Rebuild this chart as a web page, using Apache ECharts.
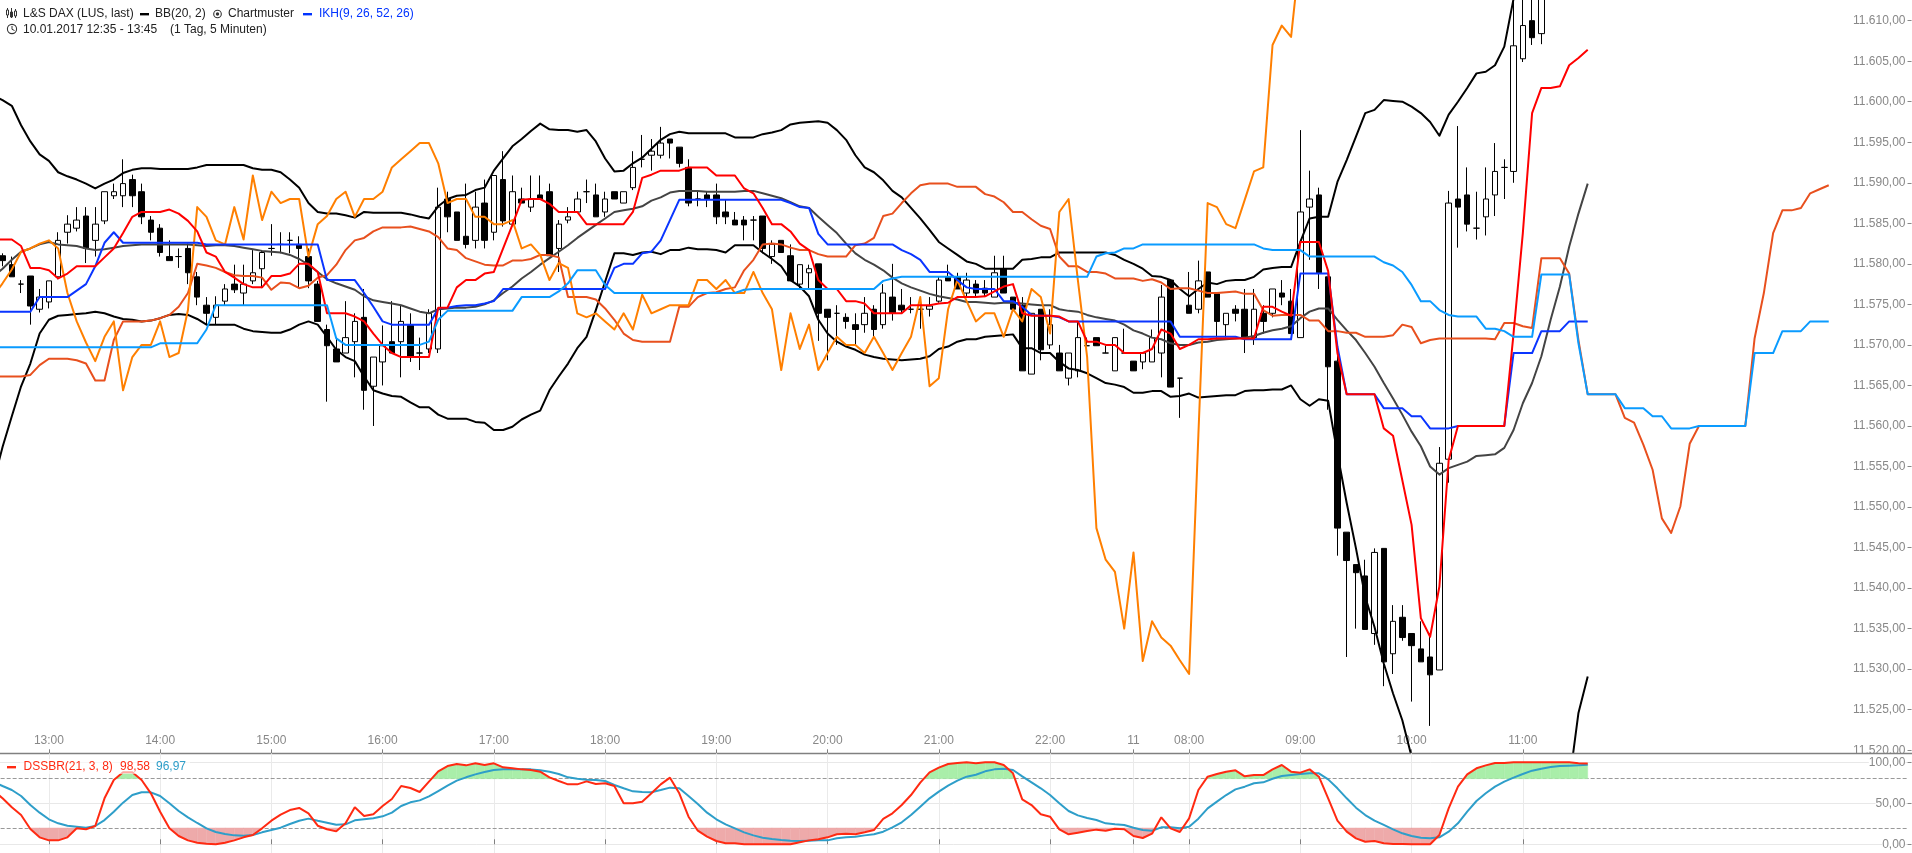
<!DOCTYPE html>
<html><head><meta charset="utf-8"><style>html,body{margin:0;padding:0;background:#fff}#c{width:1912px;height:853px}</style>
<script src="https://cdn.jsdelivr.net/npm/echarts@6/dist/echarts.min.js"></script></head><body><div id="c"></div><script>
const opens=[11581.5,11581.0,11579.9,11577.5,11578.5,11574.4,11575.3,11578.4,11583.9,11584.4,11585.9,
11582.9,11585.3,11588.4,11588.4,11590.4,11588.9,11585.4,11584.4,11580.9,11580.9,
11581.9,11578.4,11574.9,11573.4,11575.4,11577.5,11576.4,11577.9,11579.4,11581.9,
11582.4,11582.9,11582.4,11580.9,11577.5,11571.9,11569.5,11569.0,11570.4,11573.4,
11564.9,11567.9,11570.4,11570.4,11572.4,11569.0,11569.5,11569.5,11588.0,11586.4,
11583.4,11582.9,11587.5,11583.9,11590.4,11584.9,11588.0,11587.0,11588.5,11588.9,
11581.9,11585.4,11586.4,11588.9,11588.5,11586.4,11588.9,11587.5,11589.4,11592.9,
11593.4,11593.4,11595.4,11594.4,11591.9,11588.0,11588.5,11588.5,11586.4,11585.4,
11585.4,11585.4,11585.9,11580.9,11582.9,11581.0,11577.5,11578.9,11580.0,11574.4,
11573.9,11573.4,11572.5,11572.5,11574.4,11572.5,11575.9,11574.9,11574.4,11574.4,
11574.4,11575.4,11578.4,11578.4,11576.4,11577.5,11577.0,11575.9,11579.4,11575.9,
11574.9,11566.4,11574.4,11570.0,11569.0,11565.9,11566.8,11569.9,11570.9,11569.0,
11566.8,11569.0,11568.0,11567.9,11567.9,11569.0,11578.0,11565.9,11574.9,11574.4,
11579.0,11576.3,11572.5,11574.4,11574.4,11570.9,11573.9,11573.9,11576.4,11575.4,
11570.9,11587.0,11588.5,11578.4,11568.0,11546.9,11542.9,11541.5,11534.4,11544.9,
11531.9,11536.4,11534.4,11532.5,11531.5,11529.9,11555.9,11588.0,11588.5,11584.4,
11585.8,11588.5,11591.9,11591.4,11605.3,11610.0,11608.4];
const closes=[11581.0,11580.4,11578.4,11577.5,11574.8,11575.9,11577.9,11582.9,11584.9,11585.4,11581.9,
11584.9,11588.9,11588.9,11589.9,11588.4,11585.8,11583.9,11581.4,11580.4,11580.9,
11578.9,11575.9,11573.9,11574.9,11576.9,11576.8,11577.5,11578.9,11581.4,11581.9,
11582.4,11582.9,11581.9,11577.9,11572.9,11569.9,11567.9,11570.9,11572.9,11564.4,
11568.5,11569.9,11569.0,11572.9,11568.5,11569.0,11573.9,11587.0,11585.8,11582.9,
11582.4,11587.0,11582.9,11590.9,11585.3,11588.9,11587.5,11588.0,11588.0,11581.0,
11584.9,11585.8,11588.0,11588.9,11585.8,11588.0,11588.0,11588.9,11591.9,11592.9,
11593.9,11594.9,11594.9,11592.4,11587.5,11588.0,11588.0,11585.8,11585.8,11584.8,
11584.8,11585.4,11581.9,11582.4,11581.4,11577.9,11579.9,11579.4,11573.9,11573.4,
11573.9,11572.9,11571.9,11573.9,11571.9,11576.4,11573.9,11574.3,11574.4,11574.4,
11574.8,11578.0,11577.9,11576.9,11578.0,11576.4,11576.4,11578.9,11576.4,11574.4,
11566.8,11573.9,11569.4,11572.5,11566.8,11569.0,11570.9,11569.9,11569.9,11569.0,
11570.9,11569.0,11566.8,11569.0,11570.9,11575.9,11564.8,11565.9,11573.9,11577.9,
11575.9,11572.9,11573.9,11573.9,11570.9,11574.4,11572.9,11576.9,11575.9,11571.4,
11586.4,11588.0,11578.9,11567.3,11547.4,11543.4,11541.9,11534.9,11544.4,11530.9,
11535.9,11533.9,11532.9,11530.9,11529.3,11555.4,11587.5,11587.0,11584.9,11584.4,
11588.0,11591.4,11591.9,11606.9,11609.4,11607.9,11614.0];
const lows=[11580.5,11579.7,11578.4,11576.4,11572.5,11574.0,11574.5,11578.1,11582.5,11584.0,11580.1,
11580.9,11584.9,11588.0,11587.0,11587.0,11584.9,11582.9,11580.9,11580.4,11579.5,
11577.5,11574.9,11572.5,11572.5,11574.9,11576.4,11574.9,11577.5,11577.0,11581.0,
11581.3,11581.3,11577.0,11577.0,11572.9,11563.0,11567.9,11569.0,11566.0,11562.0,
11560.0,11565.0,11569.0,11566.0,11567.9,11566.9,11569.0,11569.0,11583.9,11582.9,
11581.9,11581.9,11581.9,11582.9,11584.6,11584.9,11587.5,11586.4,11588.0,11581.0,
11579.0,11585.0,11586.4,11587.5,11585.8,11585.8,11588.0,11587.5,11589.1,11591.9,
11591.5,11593.0,11593.0,11591.9,11587.1,11587.1,11587.0,11584.9,11584.9,11584.8,
11582.9,11582.9,11581.3,11580.0,11581.4,11577.9,11577.0,11577.0,11570.5,11568.1,
11570.0,11572.0,11570.0,11571.5,11570.9,11572.0,11573.0,11573.9,11573.9,11572.0,
11573.5,11575.2,11577.9,11576.9,11575.9,11575.9,11575.9,11575.9,11576.4,11574.4,
11566.8,11566.4,11568.1,11569.5,11566.8,11565.0,11566.0,11569.9,11569.9,11569.0,
11566.8,11569.0,11566.8,11567.0,11567.9,11566.0,11564.8,11561.0,11573.9,11573.9,
11575.9,11570.9,11570.9,11572.9,11569.0,11570.0,11571.4,11573.4,11574.9,11571.4,
11570.9,11580.5,11576.9,11562.0,11544.0,11531.5,11535.0,11534.9,11533.0,11527.9,
11529.4,11533.5,11526.0,11530.9,11523.0,11529.9,11553.0,11582.0,11584.0,11583.0,
11583.5,11585.9,11588.0,11590.0,11604.9,11607.0,11607.1];
const highs=[11582.0,11581.3,11580.9,11578.0,11578.5,11576.9,11577.9,11583.9,11586.0,11587.0,11587.0,
11587.0,11588.9,11589.9,11592.9,11591.0,11589.9,11585.9,11584.9,11582.9,11581.9,
11582.5,11579.0,11575.9,11576.0,11577.5,11579.9,11579.9,11581.7,11581.7,11584.9,
11583.9,11583.9,11583.4,11581.9,11577.9,11572.5,11570.9,11575.4,11573.9,11576.9,
11568.5,11572.4,11575.4,11574.9,11573.9,11570.9,11574.4,11589.4,11588.9,11586.4,
11589.9,11588.9,11590.4,11590.9,11593.9,11590.9,11589.4,11590.9,11590.9,11589.9,
11585.4,11587.0,11588.9,11590.4,11589.9,11588.9,11588.9,11588.9,11593.9,11595.9,
11595.4,11596.9,11595.4,11594.4,11592.9,11588.9,11588.9,11589.9,11587.9,11586.4,
11585.9,11585.9,11585.9,11582.9,11582.9,11582.4,11579.9,11579.9,11580.0,11574.4,
11574.9,11573.9,11573.9,11575.9,11574.9,11577.5,11580.0,11576.9,11575.9,11575.9,
11575.9,11578.4,11579.9,11578.9,11578.9,11578.0,11578.0,11581.0,11581.0,11575.9,
11575.9,11573.9,11574.4,11574.4,11570.0,11569.0,11572.9,11570.9,11570.9,11569.9,
11570.9,11572.0,11568.0,11569.0,11571.9,11577.4,11578.0,11565.9,11579.0,11580.4,
11579.0,11576.3,11573.9,11574.9,11576.9,11576.9,11574.9,11576.9,11578.0,11576.9,
11596.5,11591.5,11589.4,11578.4,11569.6,11546.9,11542.9,11543.5,11544.9,11544.9,
11537.9,11537.9,11534.4,11535.9,11534.4,11557.4,11589.0,11597.0,11591.9,11588.9,
11591.9,11594.9,11592.9,11614.0,11614.0,11614.0,11615.0];
const bbUpper=[11600.8,11600.2,11599.5,11597.1,11595.1,11593.5,11592.7,11591.3,11590.8,11590.4,11589.9,
11589.3,11589.9,11590.4,11591.2,11591.6,11591.8,11591.8,11591.7,11591.7,11591.7,
11591.7,11591.9,11592.2,11592.2,11592.2,11592.2,11592.2,11591.8,11591.6,11591.6,
11591.3,11590.4,11589.4,11587.5,11586.4,11586.2,11586.2,11586.0,11585.7,11586.4,
11586.3,11586.3,11586.3,11586.3,11586.1,11585.8,11585.6,11587.1,11588.0,11588.4,
11588.5,11589.1,11589.4,11591.5,11593.0,11594.5,11595.4,11596.4,11597.3,11596.6,
11596.5,11596.5,11596.3,11596.5,11595.1,11593.0,11591.4,11591.5,11592.4,
11593.1,11594.2,11595.3,11596.0,11596.3,11596.1,11596.1,11596.1,11596.1,11596.1,
11595.6,11595.6,11595.6,11596.0,11596.2,11596.5,11597.2,11597.4,11597.5,11597.6,
11597.4,11596.5,11595.3,11593.4,11591.9,11591.3,11590.3,11589.0,11588.2,11586.9,
11585.6,11584.2,11582.7,11581.9,11581.1,11580.3,11580.0,11579.4,11579.4,11579.4,
11579.4,11580.5,11580.6,11580.8,11580.8,11581.4,11581.4,11581.4,11581.4,11581.4,
11581.4,11581.1,11580.5,11580.0,11579.4,11578.5,11578.4,11578.0,11576.9,11576.0,
11576.9,11577.7,11577.5,11577.9,11578.0,11578.0,11578.4,11579.3,11579.5,
11579.6,11579.6,11582.7,11585.6,11585.8,11585.8,11590.1,11592.8,11595.7,11598.6,
11599.0,11600.2,11600.1,11600.0,11599.4,11598.6,11597.5,11595.8,11598.4,11600.0,
11601.7,11603.5,11603.7,11604.5,11606.8,11612.7];
const bbMiddle=[11578.4,11579.4,11580.5,11581.5,11581.9,11582.4,11582.7,11582.4,11582.3,11582.2,11581.9,
11581.7,11581.8,11582.0,11582.2,11582.3,11582.4,11582.4,11582.4,11582.4,11582.4,
11582.4,11582.3,11582.2,11582.3,11582.3,11582.2,11582.0,11581.8,11581.6,11581.5,
11581.4,11581.1,11580.6,11579.9,11579.0,11578.1,11577.6,11577.2,11576.8,11576.0,
11575.5,11575.3,11575.1,11574.9,11574.5,11574.1,11573.9,11574.4,11574.5,11574.6,
11574.6,11574.7,11575.0,11575.5,11576.4,11577.2,11578.2,11579.0,11579.9,11580.7,
11581.5,11582.3,11583.2,11584.0,11584.8,11585.6,11586.4,11586.6,11586.8,
11587.1,11587.8,11588.2,11588.8,11589.0,11589.0,11589.0,11588.9,11588.9,11588.9,
11588.9,11589.0,11589.0,11588.7,11588.4,11588.1,11587.6,11587.1,11586.9,11585.8,
11584.8,11583.8,11582.5,11581.3,11580.5,11579.9,11579.2,11578.3,11577.6,11577.1,
11576.7,11576.3,11576.0,11575.8,11575.6,11575.3,11575.3,11575.2,11575.1,11575.2,
11575.2,11575.1,11575.0,11574.9,11574.9,11574.4,11574.2,11574.1,11573.7,11573.4,
11573.2,11573.0,11572.5,11571.8,11571.4,11570.9,11570.7,11570.2,11570.0,11570.0,
11570.3,11570.4,11570.6,11570.7,11570.8,11570.9,11571.1,11571.5,11571.8,
11572.0,11572.3,11573.3,11574.1,11574.5,11574.5,11573.1,11571.8,11570.6,11569.0,
11567.3,11565.3,11563.4,11561.4,11559.3,11557.5,11555.0,11554.0,11554.8,11555.2,
11555.6,11556.3,11556.4,11556.5,11557.3,11559.5,11562.8,11565.3,11568.6,11573.1,
11577.2,11582.1,11586.2,11589.9];
const bbLower=[11553.0,11557.4,11561.2,11564.9,11567.7,11571.4,11573.1,11573.6,11573.7,11573.8,11573.9,
11574.1,11573.9,11573.5,11573.2,11573.1,11572.9,11573.0,11573.3,11573.7,11573.8,
11573.7,11573.2,11572.5,11572.5,11572.5,11572.5,11572.0,11571.7,11571.6,11571.5,
11571.5,11571.9,11572.5,11572.9,11572.5,11571.0,11569.4,11568.5,11568.0,11566.1,
11564.4,11564.0,11563.7,11563.6,11562.9,11562.3,11562.3,11561.4,11560.9,11560.9,
11560.9,11560.5,11560.4,11559.5,11559.5,11559.9,11560.8,11561.4,11561.9,11564.4,
11566.1,11567.7,11569.6,11571.0,11574.3,11577.8,11581.3,11581.3,11581.1,
11581.4,11581.5,11581.2,11581.7,11581.7,11582.0,11581.8,11581.8,11581.7,11581.4,
11582.3,11582.3,11582.3,11581.4,11580.6,11579.7,11578.0,11577.2,11576.0,11573.1,
11571.4,11570.4,11569.8,11569.4,11568.8,11568.5,11568.3,11568.2,11568.1,11568.2,
11568.3,11568.6,11569.5,11569.8,11570.4,11570.7,11570.7,11571.0,11571.1,11571.2,
11571.3,11569.6,11569.6,11569.0,11569.0,11567.9,11567.1,11566.9,11566.5,11565.9,
11565.3,11565.1,11564.8,11564.1,11564.1,11564.3,11564.3,11563.6,11563.7,11564.0,
11563.5,11563.6,11563.7,11563.8,11563.8,11564.3,11564.4,11564.4,11564.5,
11564.5,11565.0,11563.3,11562.5,11563.3,11563.1,11556.6,11550.5,11544.9,11538.9,
11535.2,11530.7,11527.0,11523.7,11519.2,11516.0,
null,null,null,null,null,null,null,null,null,null,null,null,null,null,null,
11515.9,11524.6,11529.1];
const tenkan=[11583.0,11583.0,11583.0,11582.2,11579.5,11579.5,11579.2,11578.2,11578.8,11579.7,11579.7,
11579.7,11580.8,11581.9,11583.8,11585.8,11586.4,11586.4,11586.4,11586.7,11586.2,
11585.3,11584.0,11581.4,11580.9,11579.0,11578.3,11577.5,11577.1,11577.1,11578.5,
11578.5,11578.8,11580.0,11580.0,11579.0,11573.9,11573.9,11573.9,11573.5,11572.9,
11571.4,11570.0,11569.0,11568.5,11568.5,11568.5,11568.5,11574.6,11574.6,11577.1,
11578.0,11578.0,11578.8,11579.0,11581.9,11584.8,11587.9,11588.0,11588.0,11587.4,
11586.4,11586.4,11586.4,11584.9,11584.9,11584.9,11584.9,11584.9,11586.4,
11590.6,11591.0,11591.5,11591.5,11591.5,11591.9,11591.9,11591.9,11590.9,11590.9,
11590.9,11589.3,11588.7,11586.9,11584.9,11584.9,11584.0,11582.5,11581.7,11578.0,
11576.9,11576.9,11575.4,11575.4,11575.1,11573.9,11573.9,11573.9,11573.9,11574.9,
11574.9,11574.9,11575.1,11575.2,11575.9,11575.9,11575.9,11576.0,11576.6,11577.2,
11577.5,11573.9,11573.6,11573.6,11573.6,11573.5,11572.9,11572.9,11570.4,11570.4,
11570.0,11570.0,11569.0,11569.0,11569.0,11569.5,11571.9,11571.4,11569.5,11570.0,
11570.7,11570.7,11570.8,11570.8,11570.8,11570.8,11570.8,11574.7,11574.7,
11574.1,11573.6,11582.7,11582.7,11582.7,11579.1,11569.0,11563.9,11563.9,11563.9,
11563.9,11559.7,11558.8,11553.3,11547.8,11536.3,11534.0,11540.2,11555.8,11560.0,
11560.0,11560.0,11560.0,11560.0,11560.0,11571.4,11583.8,11598.6,11601.7,11601.7,
11601.9,11604.5,11605.4,11606.4];
const kijun=[11574.1,11574.1,11574.1,11574.1,11574.1,11575.9,11575.9,11575.9,11575.9,11576.7,11577.5,
11579.7,11582.6,11583.9,11582.6,11582.6,11582.6,11582.6,11582.6,11582.6,11582.6,
11582.6,11582.6,11582.4,11582.4,11582.4,11582.4,11582.4,11582.4,11582.4,11582.4,
11582.4,11582.4,11582.4,11582.4,11582.4,11578.0,11578.0,11578.0,11578.0,11576.4,
11574.7,11572.9,11572.5,11572.5,11572.5,11572.5,11572.5,11574.5,11574.6,11574.8,
11574.9,11574.9,11575.1,11575.4,11576.9,11576.9,11576.9,11576.9,11576.9,11576.9,
11576.9,11576.9,11576.9,11576.9,11576.9,11576.9,11579.5,11580.0,11580.0,
11581.3,11581.5,11582.9,11585.4,11587.9,11587.9,11587.9,11587.9,11587.9,11587.9,
11587.9,11587.9,11587.9,11587.9,11587.9,11587.9,11587.5,11587.0,11586.9,11583.7,
11582.4,11582.4,11582.4,11582.4,11582.4,11582.4,11582.4,11582.4,11581.7,11581.2,
11580.5,11579.0,11579.0,11579.0,11578.0,11577.1,11576.9,11576.9,11576.9,11575.4,
11575.4,11574.7,11573.7,11573.6,11573.6,11573.4,11572.9,11572.9,11572.9,11572.9,
11572.9,11572.9,11572.9,11572.9,11572.9,11572.9,11572.9,11572.9,11571.0,11571.0,
11571.0,11571.0,11571.0,11571.0,11571.0,11570.7,11570.7,11570.7,11570.7,
11570.7,11570.7,11578.8,11578.8,11578.8,11578.8,11569.8,11563.9,11563.9,11563.9,
11563.9,11562.2,11562.2,11562.2,11561.2,11561.2,11559.7,11559.7,11559.7,11560.0,
11560.0,11560.0,11560.0,11560.0,11560.0,11569.0,11569.0,11569.0,11571.7,11571.7,
11571.7,11572.9,11572.9,11572.9];
const chikou=[11576.0,11577.6,11579.3,11581.5,11581.9,11582.5,11582.9,11581.9,11576.4,11572.9,11570.3,
11568.0,11571.0,11572.9,11564.4,11568.5,11570.0,11570.0,11572.9,11568.5,11569.0,
11574.3,11587.0,11585.8,11582.9,11582.4,11587.0,11583.0,11590.9,11585.4,11588.9,
11587.5,11588.0,11588.0,11580.9,11584.9,11585.9,11588.0,11588.9,11585.8,11588.0,
11588.0,11588.9,11591.9,11592.9,11593.9,11594.9,11594.9,11592.4,11587.5,11588.0,
11588.0,11585.8,11585.8,11584.9,11584.9,11585.4,11581.9,11582.4,11581.1,11578.0,
11580.1,11579.5,11573.9,11573.4,11573.9,11572.9,11571.9,11573.9,11571.9,
11576.2,11573.9,11574.4,11574.9,11574.9,11574.9,11578.0,11578.0,11576.9,11578.0,
11576.4,11576.4,11579.0,11576.4,11574.4,11566.9,11573.9,11569.5,11572.5,11566.9,
11569.0,11571.0,11570.0,11570.0,11569.0,11571.0,11569.0,11566.9,11569.0,11571.0,
11575.9,11564.9,11565.9,11574.4,11578.0,11575.4,11572.9,11573.9,11573.9,11571.0,
11574.4,11572.9,11576.9,11575.9,11571.4,11586.4,11588.0,11578.0,11568.5,
11547.4,11543.5,11542.0,11535.0,11544.4,11531.0,11535.9,11533.9,11532.9,11531.1,
11529.4,11558.9,11587.5,11587.0,11584.9,11584.4,11587.9,11591.4,11591.9,11607.0,
11609.4,11608.0,11618.7];
const senkouA=[11566.1,11566.1,11566.1,11566.1,11566.3,11567.5,11568.3,11568.3,11568.3,11568.1,11567.7,
11565.6,11565.6,11570.6,11572.9,11572.9,11572.9,11573.0,11573.3,11573.7,11574.7,
11576.4,11580.0,11579.8,11579.5,11579.0,11578.6,11578.5,11578.5,11578.3,11576.8,
11577.7,11577.6,11577.0,11577.3,11578.3,11578.6,11579.9,11581.7,11582.9,11583.2,
11584.0,11584.5,11584.5,11584.5,11584.6,11584.3,11584.0,11583.3,11581.9,11581.7,
11580.7,11580.3,11579.9,11579.8,11579.8,11580.4,11580.4,11580.6,11581.1,11581.1,
11580.8,11575.9,11575.9,11575.9,11575.6,11574.5,11573.1,11571.4,11570.6,
11570.4,11570.4,11570.4,11570.4,11574.7,11574.7,11575.9,11576.4,11576.5,11576.9,
11577.1,11579.2,11580.5,11582.4,11582.5,11582.4,11582.0,11581.7,11581.7,11581.2,
11580.9,11580.9,11580.9,11582.3,11582.5,11583.2,11585.9,11586.2,11587.5,11588.7,
11589.7,11589.9,11589.9,11589.9,11589.5,11589.5,11589.5,11588.6,11588.3,11587.6,
11586.4,11586.4,11585.5,11584.7,11584.3,11580.9,11579.7,11579.7,11579.0,11579.0,
11578.8,11578.2,11578.2,11578.2,11577.9,11578.1,11577.7,11576.9,11577.0,11577.0,
11576.7,11576.4,11576.4,11576.5,11576.6,11576.3,11576.3,11574.3,11573.6,
11573.7,11573.7,11573.7,11573.0,11573.0,11571.7,11571.7,11571.5,11571.5,11571.0,
11571.0,11571.0,11571.2,11572.5,11572.2,11570.2,11570.6,11570.8,11570.8,11570.8,
11570.8,11570.8,11570.8,11570.7,11572.7,11572.7,11572.3,11572.1,11580.7,11580.7,
11580.7,11578.8,11570.6,11563.9,11563.9,11563.9,11563.9,11561.0,11560.4,11557.7,
11554.6,11548.6,11546.8,11550.1,11557.8,11560.0,11560.0,11560.0,11560.0,11560.0,
11560.0,11570.8,11576.4,11583.8,11586.6,11586.6,11586.9,11588.7,11589.2,11589.7];
const senkouB=[11569.7,11569.7,11569.7,11569.7,11569.7,11569.7,11569.7,11569.7,11569.7,11569.7,11569.7,
11569.7,11569.7,11569.7,11569.7,11569.7,11569.7,11569.7,11570.2,11570.2,11570.2,
11570.2,11570.2,11571.9,11574.9,11574.9,11574.9,11574.9,11574.9,11574.9,11574.9,
11574.9,11574.9,11574.9,11574.9,11574.9,11574.9,11570.8,11570.0,11570.0,11570.0,
11570.0,11570.0,11570.0,11570.0,11570.0,11570.0,11570.4,11573.1,11574.2,11574.2,
11574.2,11574.2,11574.2,11574.2,11574.2,11574.2,11575.9,11575.9,11575.9,11575.9,
11576.6,11577.6,11579.2,11579.2,11579.2,11577.4,11576.4,11576.4,11576.4,
11576.4,11576.4,11576.4,11576.4,11576.4,11576.4,11576.4,11576.4,11576.4,11576.4,
11576.4,11576.8,11576.9,11576.9,11576.9,11576.9,11576.9,11576.9,11576.9,11576.9,
11576.9,11576.9,11576.9,11576.9,11576.9,11576.9,11577.9,11578.2,11578.4,11578.4,
11578.4,11578.4,11578.4,11578.4,11578.4,11578.4,11578.4,11578.4,11578.4,11578.4,
11578.4,11578.4,11578.4,11578.4,11578.4,11578.4,11578.4,11578.4,11578.4,11580.9,
11581.3,11581.4,11581.9,11581.9,11582.4,11582.4,11582.4,11582.4,11582.4,11582.4,
11582.4,11582.4,11582.4,11582.4,11582.4,11582.4,11582.4,11581.9,11581.7,
11581.7,11581.7,11581.7,11580.9,11580.9,11580.9,11580.9,11580.9,11580.9,11580.9,
11580.9,11580.2,11579.8,11579.0,11577.4,11575.4,11575.4,11574.3,11573.7,11573.5,
11573.5,11573.5,11572.0,11572.0,11571.7,11571.0,11571.0,11571.0,11578.7,11578.7,
11578.7,11578.7,11570.2,11563.9,11563.9,11563.9,11563.9,11562.2,11562.2,11562.2,
11561.2,11561.2,11559.7,11559.7,11559.7,11560.0,11560.0,11560.0,11560.0,11560.0,
11560.0,11569.0,11569.0,11569.0,11571.7,11571.7,11571.7,11572.9,11572.9,11572.9];
const dssK=[66.2,56.1,45.1,35.7,18.7,8.5,4.8,4.8,8.5,19.5,18.3,
22.3,56.1,78.4,87.8,87.8,78.4,62.2,39.8,19.5,10.1,
4.8,2.0,0.8,0,2.0,4.8,8.5,11.4,19.5,28.8,
36.1,41.8,44.3,37.8,22.7,18.3,15.8,25.6,45.1,34.5,
36.6,46.7,55.3,71.1,68.7,63.8,76.4,89.0,95.5,97.9,
96.3,98.8,96.7,98.8,93.9,92.7,91.4,90.6,88.6,81.7,
77.2,73.1,73.1,76.8,73.5,74.4,71.1,50.0,50.0,
52.0,62.2,73.1,81.3,62.2,33.7,16.6,9.3,4.0,1.2,
1.2,0,0,0,0,0,0,2.4,4.8,6.1,
8.5,12.2,13.0,12.2,14.6,17.4,30.9,37.8,47.9,60.1,
75.2,87.8,93.5,97.9,99.2,100,98.8,100,100,96.7,
86.6,54.8,47.9,36.6,33.7,18.3,12.2,14.2,16.2,17.9,
16.6,19.1,18.3,10.1,7.7,13.0,32.9,19.5,15.0,31.7,
66.2,82.5,85.7,88.6,90.2,82.9,84.5,84.5,91.4,
96.7,88.6,87.4,91.4,82.5,56.1,28.8,15.4,7.3,3.2,
4.0,1.2,0.4,0.4,0,0,0,11.4,43.9,70.3,
85.3,92.7,96.3,99.2,99.2,100,100,100,100,100,
100,100,98.8,98.58];
const dssD=[76.4,71.1,66.2,58.9,47.9,38.6,30.5,25.6,22.7,21.5,20.3,
22.3,29.6,39.8,50.8,60.1,63.4,63.4,58.9,50.0,40.6,
32.9,26.0,19.5,15.0,12.6,10.9,10.5,11.4,14.6,17.4,
20.3,24.8,28.8,31.3,28.8,26.4,23.9,24.4,29.2,30.5,
31.7,34.1,38.6,46.7,51.2,53.6,58.5,65.0,71.5,77.6,
81.7,85.3,88.2,90.6,91.4,91.4,91.4,91.4,90.2,88.6,
85.7,81.7,80.0,78.8,78.4,77.2,72.3,68.3,64.6,
63.8,63.4,66.2,69.1,68.3,58.9,49.1,38.6,30.5,24.4,
19.5,14.6,10.9,8.1,6.5,5.3,4.4,4.0,4.4,4.8,
4.8,7.3,8.5,9.3,10.9,12.2,15.4,20.7,26.8,35.7,
45.9,56.1,64.2,71.5,77.6,82.5,84.9,89.0,91.4,92.2,
90.6,82.9,75.6,68.3,60.1,50.0,40.6,35.3,32.1,29.6,
25.6,24.4,23.6,20.3,17.4,16.6,20.7,20.7,19.5,21.5,
31.3,43.9,52.0,60.1,67.0,70.3,74.4,75.6,80.0,
83.3,84.5,85.7,86.6,86.6,79.2,68.3,56.1,44.7,35.7,
28.8,23.6,18.3,13.4,10.1,8.1,7.3,8.5,15.4,25.6,
39.8,52.8,62.2,70.3,76.4,81.3,85.7,89.8,92.2,94.3,
95.5,95.9,96.3,96.97];
const tickIndexes=[6,18,30,42,54,66,78,90,102,114,123,129,141,153,165];
const tickLabels=['13:00','14:00','15:00','16:00','17:00','18:00','19:00','20:00','21:00','22:00','11','08:00','09:00','10:00','11:00'];
const priceTicks=[11520,11525,11530,11535,11540,11545,11550,11555,11560,11565,11570,11575,11580,11585,11590,11595,11600,11605,11610];
const dssTicks=[0,50,100];
const dssUpperLevel=80, dssLowerLevel=20;
const BAR_COUNT=207;

const categories=[];
for(let i=0;i<BAR_COUNT;i++){const k=tickIndexes.indexOf(i);categories.push(k>=0?tickLabels[k]:'b'+i);}
const isTick=i=>tickIndexes.indexOf(i)>=0;
const candles=opens.map((o,i)=>[o,closes[i],lows[i],highs[i]]);
const fmt=v=>Number(v).toLocaleString('de-DE',{minimumFractionDigits:2,maximumFractionDigits:2});
const line=(name,data,color,w,z,extra)=>Object.assign({name,type:'line',data,symbol:'none',smooth:false,connectNulls:false,
 xAxisIndex:0,yAxisIndex:0,z,lineStyle:{color,width:w,join:'round'},itemStyle:{color},silent:true},extra||{});
function shade(threshold,above,fill){
 return {type:'custom',xAxisIndex:1,yAxisIndex:1,z:6,silent:true,clip:true,
  data:dssK.map((v,i)=>[i,v]),encode:{x:0,y:1},
  renderItem(params,api){
   const i=api.value(0);if(i>=dssK.length-1)return null;
   const a=dssK[i],b=dssK[i+1];const s=above?1:-1;
   const ia=(a-threshold)*s>0,ib=(b-threshold)*s>0;
   if(!ia&&!ib)return null;
   const pts=[];
   const t=(threshold-a)/(b-a);
   if(ia&&ib){pts.push([i,threshold],[i,a],[i+1,b],[i+1,threshold]);}
   else if(ia){pts.push([i,threshold],[i,a],[i+t,threshold]);}
   else {pts.push([i+t,threshold],[i+1,b],[i+1,threshold]);}
   const x0=api.coord([i,0])[0],x1=api.coord([i+1,0])[0];
   const points=pts.map(p=>{const fr=p[0]-i;return [x0+(x1-x0)*fr,api.coord([i,p[1]])[1]];});
   return {type:'polygon',shape:{points},style:{fill:fill,stroke:fill,lineWidth:0.4}};
  }};
}
const T=(text,x,y,color)=>({type:'text',x,y,z:20,silent:true,style:{text,fill:color,font:'12px "Liberation Sans"',textVerticalAlign:'middle'}});
const dash=(x,y,w,color)=>({type:'rect',z:20,silent:true,shape:{x,y:y-1,width:w,height:2.4},style:{fill:color}});
const graphic=[
 {type:'rect',z:4,silent:true,shape:{x:0,y:754,width:1912,height:99},style:{fill:'#fff'}},
 {type:'line',z:5,silent:true,shape:{x1:0,y1:753.5,x2:1912,y2:753.5},style:{stroke:'#808080',lineWidth:1.3}},
 {type:'rect',z:19,silent:true,shape:{x:20,y:759,width:170,height:15},style:{fill:'rgba(255,255,255,0.6)'}},
 // candle glyph
 {type:'line',z:20,silent:true,shape:{x1:7.5,y1:8,x2:7.5,y2:18},style:{stroke:'#333',lineWidth:1}},
 {type:'rect',z:20,silent:true,shape:{x:6.5,y:10,width:2,height:5},style:{fill:'#fff',stroke:'#333',lineWidth:1}},
 {type:'line',z:20,silent:true,shape:{x1:11.5,y1:8,x2:11.5,y2:18},style:{stroke:'#333',lineWidth:1}},
 {type:'rect',z:20,silent:true,shape:{x:10.5,y:12,width:2,height:5},style:{fill:'#333',stroke:'#333',lineWidth:1}},
 {type:'line',z:20,silent:true,shape:{x1:15.5,y1:9,x2:15.5,y2:18},style:{stroke:'#333',lineWidth:1}},
 {type:'rect',z:20,silent:true,shape:{x:14.5,y:11,width:2,height:5},style:{fill:'#fff',stroke:'#333',lineWidth:1}},
 T('L&S DAX (LUS, last)',23,14,'#222'),
 dash(140,14,9,'#000'),
 T('BB(20, 2)',155,14,'#222'),
 {type:'circle',z:20,silent:true,shape:{cx:217.5,cy:14,r:3.8},style:{fill:'#fff',stroke:'#333',lineWidth:1.1}},
 {type:'circle',z:20,silent:true,shape:{cx:217.5,cy:14,r:1.7},style:{fill:'#333'}},
 T('Chartmuster',228,14,'#222'),
 dash(303,14,9,'#0033ff'),
 T('IKH(9, 26, 52, 26)',319,14,'#0033ff'),
 {type:'circle',z:20,silent:true,shape:{cx:12,cy:29,r:4.6},style:{fill:'#fff',stroke:'#333',lineWidth:1.1}},
 {type:'polyline',z:20,silent:true,shape:{points:[[12,26],[12,29.3],[14.5,30.5]]},style:{stroke:'#333',lineWidth:1,fill:'none'}},
 T('10.01.2017 12:35 - 13:45',23,29.5,'#222'),
 T('(1 Tag, 5 Minuten)',170,29.5,'#222'),
 dash(7,767,9,'#ff2a12'),
 T('DSSBR(21, 3, 8)',23.5,767,'#ff2a12'),
 T('98,58',120,767,'#ff2a12'),
 T('96,97',156,767,'#2e9ec9')
];
const chart=echarts.init(document.getElementById('c'),null,{renderer:'canvas'});
chart.setOption({
 animation:false,backgroundColor:'#fff',graphic,tooltip:{show:false},
 grid:[{left:-11.355,top:0,width:1918.89,height:753.3,containLabel:false,outerBoundsMode:'none'},
       {left:-11.355,top:753.3,width:1918.89,height:99.7,containLabel:false,outerBoundsMode:'none'}],
 xAxis:[
  {type:'category',gridIndex:0,data:categories,boundaryGap:true,
   axisLine:{show:false},
   axisTick:{show:true,inside:true,length:4,alignWithLabel:true,interval:isTick,lineStyle:{color:'#808080'}},
   axisLabel:{show:true,inside:true,margin:6.5,interval:isTick,color:'#888',fontFamily:'Liberation Sans',fontSize:12,hideOverlap:false},
   splitLine:{show:false}},
  {type:'category',gridIndex:1,data:categories,boundaryGap:true,z:5,
   axisLine:{show:false},axisLabel:{show:false},
   axisTick:{show:true,inside:true,length:5,alignWithLabel:true,interval:isTick,lineStyle:{color:'#808080'}},
   splitLine:{show:true,alignWithLabel:true,interval:isTick,lineStyle:{color:'#eaeaea',width:1}}}
 ],
 yAxis:[
  {type:'value',gridIndex:0,position:'right',min:11519.62,max:11612.55,scale:true,
   axisLine:{show:false},splitLine:{show:false},
   axisTick:{show:true,inside:false,length:4,customValues:priceTicks,lineStyle:{color:'#888'}},
   axisLabel:{show:true,inside:true,margin:2,customValues:priceTicks,formatter:fmt,color:'#888',fontFamily:'Liberation Sans',fontSize:12}},
  {type:'value',gridIndex:1,position:'right',min:-10.6,max:111,z:5,
   axisLine:{show:false},
   splitLine:{show:true,lineStyle:{color:'#e8e8e8',width:1}},
   axisTick:{show:true,inside:false,length:4,customValues:dssTicks,lineStyle:{color:'#888'}},
   axisLabel:{show:true,inside:true,margin:2,customValues:dssTicks,formatter:fmt,color:'#888',fontFamily:'Liberation Sans',fontSize:12,backgroundColor:'#fff'}}
 ],
 series:[
  {name:'L&S DAX',type:'candlestick',xAxisIndex:0,yAxisIndex:0,data:candles,barWidth:6,z:1,silent:true,clip:true,
   itemStyle:{color:'#fff',color0:'#000',borderColor:'#000',borderColor0:'#000',borderWidth:1}},
  line('BB upper',bbUpper,'#000',2,2),
  line('BB lower',bbLower,'#000',2,2),
  line('BB middle',bbMiddle,'#444',2,2),
  line('Senkou A',senkouA,'#e8501e',2,3),
  line('Chikou',chikou,'#ff7f00',2,3),
  line('Kijun',kijun,'#0a35ff',2,3),
  line('Tenkan',tenkan,'#ff0000',2,3),
  line('Senkou B',senkouB,'#0a9bff',2,3),
  shade(dssUpperLevel,true,'#a9eea9'),
  shade(dssLowerLevel,false,'#eeaaaa'),
  {name:'levels',type:'line',xAxisIndex:1,yAxisIndex:1,data:[],z:6,silent:true,
   markLine:{silent:true,symbol:'none',label:{show:false},animation:false,
    lineStyle:{type:'dashed',color:'#999',width:1},
    data:[{yAxis:dssUpperLevel},{yAxis:dssLowerLevel}]}},
  {name:'DSSBR signal',type:'line',xAxisIndex:1,yAxisIndex:1,data:dssD,symbol:'none',z:7,silent:true,lineStyle:{color:'#2e9ec9',width:2}},
  {name:'DSSBR',type:'line',xAxisIndex:1,yAxisIndex:1,data:dssK,symbol:'none',z:8,silent:true,lineStyle:{color:'#ff2a12',width:2}}
 ]
});
</script></body></html>
